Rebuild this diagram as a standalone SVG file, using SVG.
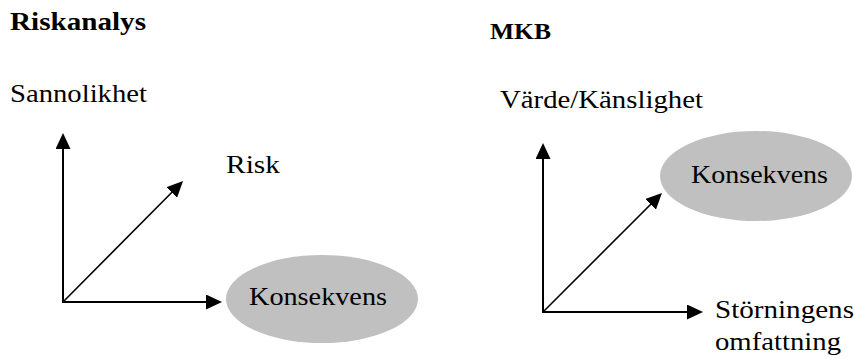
<svg xmlns="http://www.w3.org/2000/svg" width="854" height="359" viewBox="0 0 854 359">
  <style>
    text { font-family: "Liberation Serif", "DejaVu Serif", "Times New Roman", serif; fill: #000; }
    .title { font-weight: bold; }
    .lbl { font-size: 26px; }
    .ax { stroke: #000; stroke-width: 2; fill: none; }
    .diag { stroke: #000; stroke-width: 1.6; fill: none; }
    .blob { fill: #c0c0c0; }
  </style>
  <defs>
    <marker id="ah" viewBox="0 0 16 15" refX="8" refY="7.5" markerWidth="16" markerHeight="15" markerUnits="userSpaceOnUse" orient="auto">
      <path d="M0,0 L16,7.5 L0,15 z" fill="#000"/>
    </marker>
  </defs>

  <rect width="854" height="359" fill="#fff"/>

  <!-- headings -->
  <text class="title" x="10" y="30" font-size="26" font-family="Liberation Serif, DejaVu Serif, serif" textLength="136" lengthAdjust="spacingAndGlyphs">Riskanalys</text>
  <text class="title" x="490" y="39" font-size="23" font-family="Liberation Serif, DejaVu Serif, serif" textLength="61" lengthAdjust="spacingAndGlyphs">MKB</text>

  <!-- left chart nodes -->
  <g id="sannolikhet">
    <text class="lbl" x="10" y="102" textLength="137" lengthAdjust="spacingAndGlyphs">Sannolikhet</text>
  </g>
  <g id="risk">
    <text class="lbl" x="226" y="173" textLength="54" lengthAdjust="spacingAndGlyphs">Risk</text>
  </g>
  <g id="konsekvens-risk">
    <ellipse class="blob" cx="322" cy="299" rx="96" ry="44"/>
    <text class="lbl" x="249" y="305" textLength="138" lengthAdjust="spacingAndGlyphs">Konsekvens</text>
  </g>

  <!-- right chart nodes -->
  <g id="varde">
    <text class="lbl" x="500" y="108" textLength="203" lengthAdjust="spacingAndGlyphs">Värde/Känslighet</text>
  </g>
  <g id="konsekvens-mkb">
    <ellipse class="blob" cx="756" cy="176" rx="96" ry="45"/>
    <text class="lbl" x="691" y="183" textLength="137" lengthAdjust="spacingAndGlyphs">Konsekvens</text>
  </g>
  <g id="storning">
    <text class="lbl" x="715" y="318" textLength="139" lengthAdjust="spacingAndGlyphs">Störningens</text>
    <text class="lbl" x="715" y="350" textLength="126" lengthAdjust="spacingAndGlyphs">omfattning</text>
  </g>

  <!-- axes and arrows -->
  <g id="connectors">
    <line class="ax" x1="63" y1="303" x2="63" y2="141" marker-end="url(#ah)"/>
    <line class="ax" x1="62" y1="302" x2="214" y2="302" marker-end="url(#ah)"/>
    <line class="diag" x1="63" y1="302" x2="177.4" y2="186.7" marker-end="url(#ah)"/>

    <line class="ax" x1="543" y1="313" x2="543" y2="151" marker-end="url(#ah)"/>
    <line class="ax" x1="542" y1="312" x2="695" y2="312" marker-end="url(#ah)"/>
    <line class="diag" x1="543" y1="312" x2="656.3" y2="198.7" marker-end="url(#ah)"/>
  </g>
</svg>
